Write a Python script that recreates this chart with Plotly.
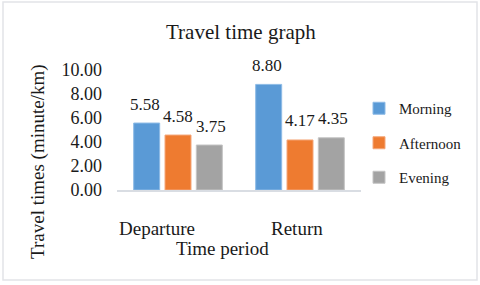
import plotly.graph_objects as go

categories = ["Departure", "Return"]
series_names = ["Morning", "Afternoon", "Evening"]
morning = [5.58, 8.80]
afternoon = [4.58, 4.17]
evening = [3.75, 4.35]
y_ticks = [0, 2, 4, 6, 8, 10]
y_tick_labels = ["0.00", "2.00", "4.00", "6.00", "8.00", "10.00"]

colors = ["#5a9ad6", "#ee7b30", "#a3a3a3"]
line_colors = ["#8dbbe6", "#f4a77a", "#c4c4c4"]
FONT = "Liberation Serif, Times New Roman, serif"
TXT = "#1a1a1a"

W, H = 480, 285
L, R, T, B = 117, 119, 70, 95
pw, ph = W - L - R, H - T - B
BAR_STEP = 33  # px between bar centres inside a group

def px(x):
    return (x - L) / pw

def py(y):
    return (H - B - y) / ph

fig = go.Figure()
all_vals = [morning, afternoon, evening]
for i, (name, vals) in enumerate(zip(series_names, all_vals)):
    fig.add_trace(go.Bar(
        x=categories, y=vals, name=name,
        marker=dict(color=colors[i], line=dict(color=line_colors[i], width=1)),
        legendgroup=name,
    ))
    for cat, v in zip(categories, vals):
        fig.add_annotation(text=f"{v:.2f}", x=cat, y=v, xref="x", yref="y",
                           xshift=(i - 1) * BAR_STEP, yshift=19,
                           showarrow=False, xanchor="center", yanchor="middle",
                           font=dict(family=FONT, size=17, color=TXT))

fig.update_layout(
    width=W, height=H,
    margin=dict(l=L, r=R, t=T, b=B),
    paper_bgcolor="white", plot_bgcolor="white",
    barmode="group", bargap=0.23, bargroupgap=0.17,
    font=dict(family=FONT, color=TXT),
    showlegend=True,
    legend=dict(
        x=px(359), xanchor="left", y=py(143), yanchor="middle",
        font=dict(family=FONT, size=15, color=TXT),
        tracegroupgap=12, bgcolor="rgba(0,0,0,0)",
    ),
    xaxis=dict(
        showticklabels=False, showline=True, linecolor="#d9dde3", linewidth=1.5,
        ticks="", showgrid=False, zeroline=False,
    ),
    yaxis=dict(
        range=[0, 10], tickvals=y_ticks, ticktext=y_tick_labels,
        showgrid=False, zeroline=False, showline=False, ticks="",
        tickfont=dict(family=FONT, size=18, color=TXT), ticklabelstandoff=14,
    ),
)

# chart title
fig.add_annotation(text="Travel time graph", xref="paper", yref="paper",
                   x=px(241), y=py(32), showarrow=False,
                   xanchor="center", yanchor="middle",
                   font=dict(family=FONT, size=21, color=TXT))
# category labels
for cat, shift in zip(categories, [-21, -3]):
    fig.add_annotation(text=cat, x=cat, xref="x", yref="paper", y=py(228),
                       xshift=shift, showarrow=False,
                       xanchor="center", yanchor="middle",
                       font=dict(family=FONT, size=19, color=TXT))
# axis titles
fig.add_annotation(text="Time period", xref="paper", yref="paper",
                   x=px(222), y=py(248), showarrow=False,
                   xanchor="center", yanchor="middle",
                   font=dict(family=FONT, size=19, color=TXT))
fig.add_annotation(text="Travel times (minute/km)", xref="paper", yref="paper",
                   x=px(38), y=py(162), showarrow=False, textangle=-90,
                   xanchor="center", yanchor="middle",
                   font=dict(family=FONT, size=19, color=TXT))
# outer border
fig.add_shape(type="rect", xref="paper", yref="paper",
              x0=px(3), x1=px(477), y0=py(280), y1=py(2),
              line=dict(color="#e2e4e8", width=1.5), fillcolor="rgba(0,0,0,0)",
              layer="below")

fig.write_html("out.html", config={"displayModeBar": False},
               post_script="document.body.style.margin='0';document.body.style.overflow='hidden';")
